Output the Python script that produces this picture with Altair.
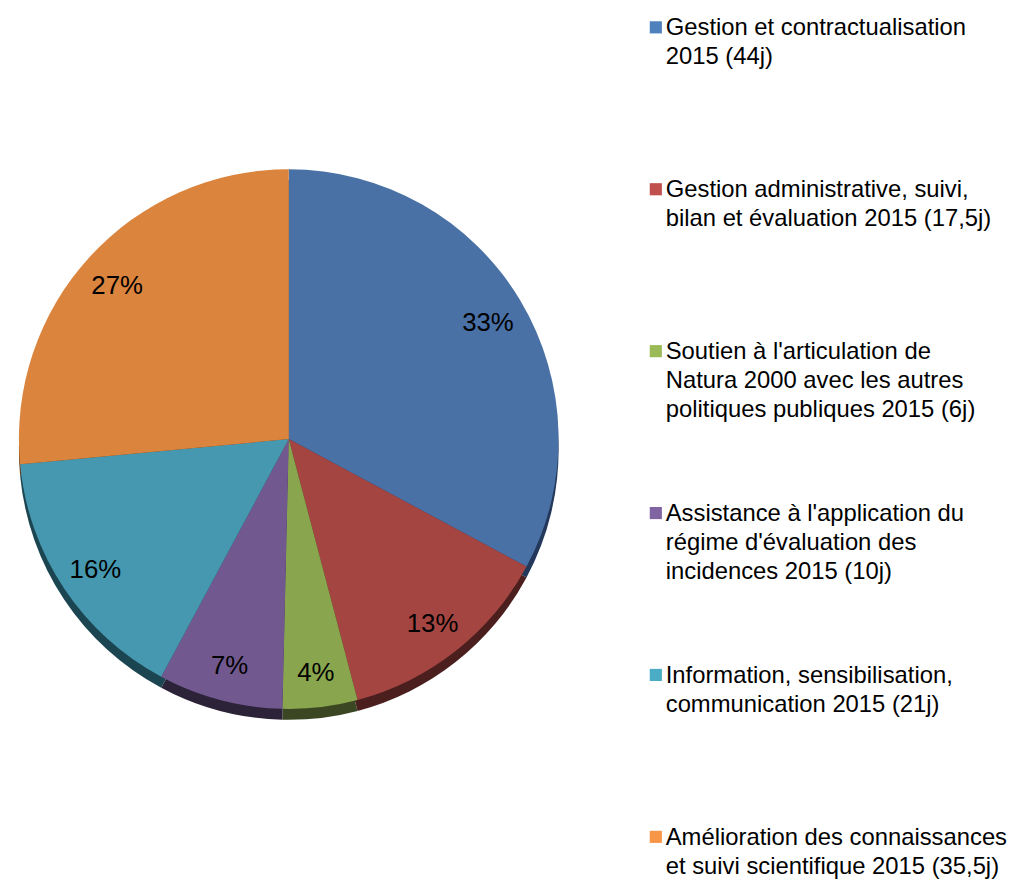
import altair as alt
import pandas as pd

# ---- data ----
CATEGORIES = [
    "Gestion et contractualisation 2015 (44j)",
    "Gestion administrative, suivi, bilan et évaluation 2015 (17,5j)",
    "Soutien à l'articulation de Natura 2000 avec les autres politiques publiques 2015 (6j)",
    "Assistance à l'application du régime d'évaluation des incidences 2015 (10j)",
    "Information, sensibilisation, communication 2015 (21j)",
    "Amélioration des connaissances et suivi scientifique 2015 (35,5j)",
]
LEGEND_LINES = [
    "Gestion et contractualisation\n2015 (44j)",
    "Gestion administrative, suivi,\nbilan et évaluation 2015 (17,5j)",
    "Soutien à l'articulation de\nNatura 2000 avec les autres\npolitiques publiques 2015 (6j)",
    "Assistance à l'application du\nrégime d'évaluation des\nincidences 2015 (10j)",
    "Information, sensibilisation,\ncommunication 2015 (21j)",
    "Amélioration des connaissances\net suivi scientifique 2015 (35,5j)",
]
DAYS = [44, 17.5, 6, 10, 21, 35.5]
PCT_LABELS = ["33%", "13%", "4%", "7%", "16%", "27%"]
FACE_COLORS = ["#4A71A5", "#A54542", "#89A54E", "#71598F", "#4598AF", "#DB843D"]
RIM_COLORS = ["#23385A", "#4A1F1E", "#3B4722", "#2D2339", "#1B4550", "#6A3E1A"]
LEGEND_COLORS = ["#4F81BD", "#C0504D", "#9BBB59", "#8064A2", "#4BACC6", "#F79646"]

df = pd.DataFrame({
    "idx": list(range(len(CATEGORIES))),
    "cat": CATEGORIES,
    "legend": LEGEND_LINES,
    "days": DAYS,
    "pct": PCT_LABELS,
    "face": FACE_COLORS,
    "rim": RIM_COLORS,
    "lcol": LEGEND_COLORS,
})

CX, CY, R = 283, 431, 272
FONT = "Liberation Sans"

base = alt.Chart(df)

theta = alt.Theta("days:Q", stack=True)
order = alt.Order("idx:Q")

rim = base.mark_arc(outerRadius=R).encode(
    theta=theta, order=order,
    color=alt.Color("rim:N", scale=None, legend=None),
    x=alt.value(CX), y=alt.value(CY + 11),
)
face = base.mark_arc(outerRadius=R).encode(
    theta=theta, order=order,
    color=alt.Color("face:N", scale=None, legend=None),
    x=alt.value(CX), y=alt.value(CY),
)
pct = base.mark_text(radius=234, font=FONT, fontSize=26, color="black",
                     align="center", baseline="middle").encode(
    theta=theta, order=order,
    text="pct:N",
    x=alt.value(CX), y=alt.value(CY + 3),
)

yscale = alt.Scale(domain=[0, 5], range=[24, 840])
squares = base.mark_square(size=150, opacity=1, yOffset=-8).encode(
    x=alt.value(653),
    y=alt.Y("idx:Q", scale=yscale, axis=None),
    color=alt.Color("lcol:N", scale=None, legend=None),
)
ltext = base.mark_text(font=FONT, fontSize=24, lineBreak="\n", lineHeight=29,
                       align="left", baseline="alphabetic", color="black").encode(
    x=alt.value(663),
    y=alt.Y("idx:Q", scale=yscale, axis=None),
    text="legend:N",
)

chart = alt.layer(rim, face, pct, squares, ltext).properties(
    width=1000, height=863, padding=0
).configure_view(stroke=None)

chart.save("out.html", embed_options={"renderer": "svg", "actions": False})
